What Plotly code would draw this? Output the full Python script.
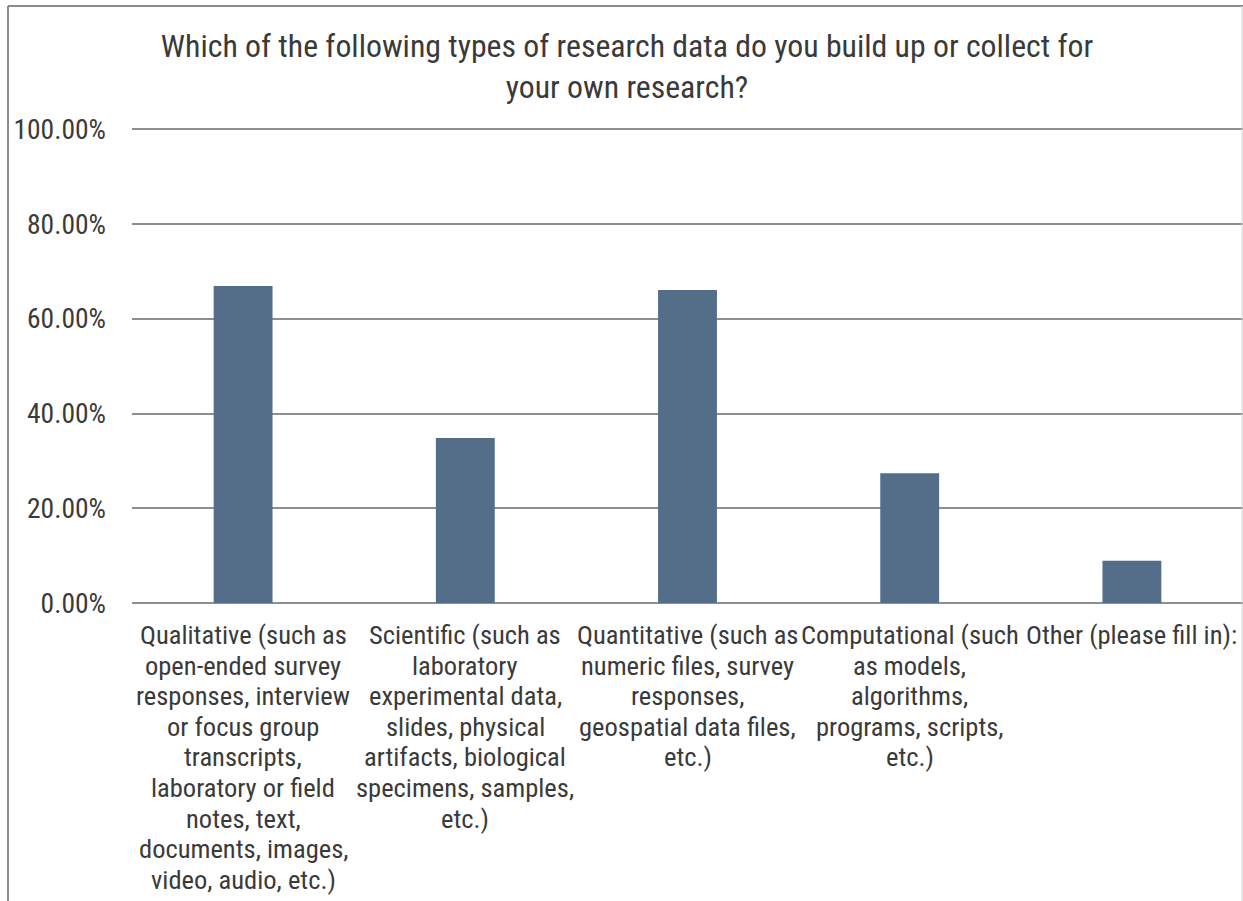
import plotly.graph_objects as go

# ---- data ----
categories = [
    "Qualitative (such as<br>open-ended survey<br>responses, interview<br>or focus group<br>transcripts,<br>laboratory or field<br>notes, text,<br>documents, images,<br>video, audio, etc.)",
    "Scientific (such as<br>laboratory<br>experimental data,<br>slides, physical<br>artifacts, biological<br>specimens, samples,<br>etc.)",
    "Quantitative (such as<br>numeric files, survey<br>responses,<br>geospatial data files,<br>etc.)",
    "Computational (such<br>as models,<br>algorithms,<br>programs, scripts,<br>etc.)",
    "Other (please fill in):",
]
values = [0.6695, 0.3485, 0.661, 0.274, 0.0893]
y_ticks = [0, 0.2, 0.4, 0.6, 0.8, 1.0]
title_text = "Which of the following types of research data do you build up or collect for<br>your own research?"

# ---- style ----
FONT = "Liberation Sans Narrow, Arial Narrow, Roboto Condensed, Liberation Sans, sans-serif"
TXT = "#3a3a3a"
BAR = "#546D89"
GRID = "#8e8e8e"
W, H = 1243, 901
ML, MR, MT, MB = 132, 0, 128, 298
PW, PH = W - ML - MR, H - MT - MB
YMAX = 1.003

fig = go.Figure()
fig.add_trace(go.Bar(
    x=categories, y=values, marker_color=BAR, marker_line_width=0, width=0.265,
    hovertemplate="%{y:.2%}<extra></extra>",
))

# category labels, one text line each (tight line spacing as in the original)
LINE = 30.6
FIRST = 31.5
for cat in categories:
    for i, line in enumerate(cat.split("<br>")):
        fig.add_annotation(
            x=cat, xref="x", y=0, yref="y", text=line, showarrow=False,
            xanchor="center", yanchor="middle", yshift=-(FIRST + i * LINE),
            font=dict(family=FONT, size=26.5, color=TXT),
        )

def px_x(p):
    return (p - ML) / PW

def px_y(p):
    return (H - MB - p) / PH

# chart frame
frame = dict(type="line", xref="paper", yref="paper", line=dict(color="#8a8a8a", width=2))
fig.add_shape(**frame, x0=px_x(8), x1=px_x(8), y0=px_y(6), y1=px_y(H))
fig.add_shape(**frame, x0=px_x(8), x1=px_x(W), y0=px_y(6), y1=px_y(6))
fig.add_shape(type="line", xref="paper", yref="paper", line=dict(color="#d0d0d0", width=1),
              x0=px_x(1242), x1=px_x(1242), y0=px_y(6), y1=px_y(H))

fig.update_layout(
    width=W, height=H,
    margin=dict(l=ML, r=MR, t=MT, b=MB, pad=0),
    paper_bgcolor="white", plot_bgcolor="white",
    showlegend=False,
    bargap=0.735,
    font=dict(family=FONT, color=TXT, size=27.5),
    title=dict(
        text=title_text, x=627 / W, xref="container", xanchor="center",
        y=1 - 57 / H, yref="container", yanchor="top",
        font=dict(family=FONT, size=31.8, color=TXT),
    ),
    xaxis=dict(showticklabels=False, showgrid=False, zeroline=False, showline=False, ticks=""),
    yaxis=dict(
        range=[0, YMAX], tickvals=y_ticks, tickformat=".2%",
        showgrid=True, gridcolor=GRID, gridwidth=1.5,
        zeroline=True, zerolinecolor=GRID, zerolinewidth=1.5,
        showline=False, ticks="", ticklabelstandoff=25,
        tickfont=dict(family=FONT, size=27.5, color=TXT),
    ),
)

fig.write_html(
    "out.html",
    config={"displayModeBar": False},
    post_script="document.body.style.margin='0';document.body.style.overflow='hidden';",
)
